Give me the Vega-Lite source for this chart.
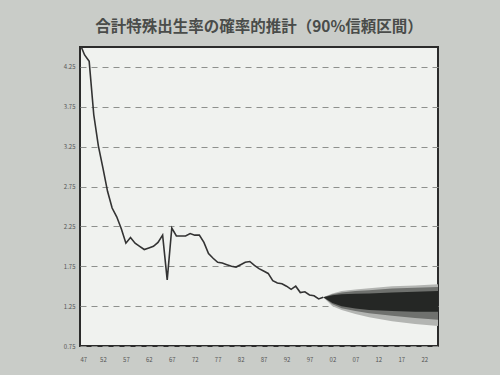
{
  "$schema": "https://vega.github.io/schema/vega-lite/v6.json",
  "autosize": "none",
  "width": 358,
  "height": 299,
  "padding": {"left": 80, "top": 47, "right": 62, "bottom": 29},
  "background": "#c9ccc8",
  "title": {
    "text": "合計特殊出生率の確率的推計（90%信頼区間）",
    "font": "Noto Sans CJK JP",
    "fontSize": 15.5,
    "fontWeight": "bold",
    "color": "#4a4c4a",
    "anchor": "middle",
    "offset": 12
  },
  "config": {
    "view": {"fill": "#f0f2ef", "stroke": "#2b2b2b", "strokeWidth": 2},
    "axis": {"labelFont": "Noto Sans CJK JP", "labelFontSize": 6, "labelColor": "#555555", "domain": false}
  },
  "datasets": {
    "actual": [
      {"year": 1947, "tfr": 4.54}, {"year": 1948, "tfr": 4.40}, {"year": 1949, "tfr": 4.32},
      {"year": 1950, "tfr": 3.65}, {"year": 1951, "tfr": 3.26}, {"year": 1952, "tfr": 2.98},
      {"year": 1953, "tfr": 2.69}, {"year": 1954, "tfr": 2.48}, {"year": 1955, "tfr": 2.37},
      {"year": 1956, "tfr": 2.22}, {"year": 1957, "tfr": 2.04}, {"year": 1958, "tfr": 2.11},
      {"year": 1959, "tfr": 2.04}, {"year": 1960, "tfr": 2.00}, {"year": 1961, "tfr": 1.96},
      {"year": 1962, "tfr": 1.98}, {"year": 1963, "tfr": 2.00}, {"year": 1964, "tfr": 2.05},
      {"year": 1965, "tfr": 2.14}, {"year": 1966, "tfr": 1.58}, {"year": 1967, "tfr": 2.23},
      {"year": 1968, "tfr": 2.13}, {"year": 1969, "tfr": 2.13}, {"year": 1970, "tfr": 2.13},
      {"year": 1971, "tfr": 2.16}, {"year": 1972, "tfr": 2.14}, {"year": 1973, "tfr": 2.14},
      {"year": 1974, "tfr": 2.05}, {"year": 1975, "tfr": 1.91}, {"year": 1976, "tfr": 1.85},
      {"year": 1977, "tfr": 1.80}, {"year": 1978, "tfr": 1.79}, {"year": 1979, "tfr": 1.77},
      {"year": 1980, "tfr": 1.75}, {"year": 1981, "tfr": 1.74}, {"year": 1982, "tfr": 1.77},
      {"year": 1983, "tfr": 1.80}, {"year": 1984, "tfr": 1.81}, {"year": 1985, "tfr": 1.76},
      {"year": 1986, "tfr": 1.72}, {"year": 1987, "tfr": 1.69}, {"year": 1988, "tfr": 1.66},
      {"year": 1989, "tfr": 1.57}, {"year": 1990, "tfr": 1.54}, {"year": 1991, "tfr": 1.53},
      {"year": 1992, "tfr": 1.50}, {"year": 1993, "tfr": 1.46}, {"year": 1994, "tfr": 1.50},
      {"year": 1995, "tfr": 1.42}, {"year": 1996, "tfr": 1.43}, {"year": 1997, "tfr": 1.39},
      {"year": 1998, "tfr": 1.38}, {"year": 1999, "tfr": 1.34}, {"year": 2000, "tfr": 1.36}
    ],
    "band": [
      {"year": 2000, "lo90": 1.36, "hi90": 1.36, "loMid": 1.36, "hiMid": 1.36, "loCore": 1.36, "hiCore": 1.36},
      {"year": 2002, "lo90": 1.25, "hi90": 1.41, "loMid": 1.275, "hiMid": 1.40, "loCore": 1.29, "hiCore": 1.385},
      {"year": 2004, "lo90": 1.20, "hi90": 1.44, "loMid": 1.225, "hiMid": 1.42, "loCore": 1.25, "hiCore": 1.40},
      {"year": 2007, "lo90": 1.15, "hi90": 1.46, "loMid": 1.19, "hiMid": 1.44, "loCore": 1.22, "hiCore": 1.405},
      {"year": 2010, "lo90": 1.11, "hi90": 1.475, "loMid": 1.16, "hiMid": 1.45, "loCore": 1.20, "hiCore": 1.41},
      {"year": 2015, "lo90": 1.06, "hi90": 1.50, "loMid": 1.13, "hiMid": 1.47, "loCore": 1.19, "hiCore": 1.42},
      {"year": 2020, "lo90": 1.025, "hi90": 1.51, "loMid": 1.10, "hiMid": 1.48, "loCore": 1.18, "hiCore": 1.43},
      {"year": 2025, "lo90": 1.00, "hi90": 1.525, "loMid": 1.08, "hiMid": 1.49, "loCore": 1.18, "hiCore": 1.44}
    ]
  },
  "encoding": {
    "x": {
      "field": "year", "type": "quantitative",
      "scale": {"domain": [1947, 2025], "nice": false, "zero": false},
      "axis": {
        "title": null, "grid": false,
        "values": [1947, 1952, 1957, 1962, 1967, 1972, 1977, 1982, 1987, 1992, 1997, 2002, 2007, 2012, 2017, 2022],
        "labelExpr": "substring(toString(datum.value), 2)",
        "tickSize": 0, "labelPadding": 10
      }
    }
  },
  "layer": [
    {
      "data": {"name": "band"},
      "mark": {"type": "area", "color": "#b3b5b2", "clip": true},
      "encoding": {
        "y": {"field": "hi90", "type": "quantitative",
          "scale": {"domain": [0.75, 4.5], "nice": false, "zero": false},
          "axis": {
            "title": null,
            "values": [0.75, 1.25, 1.75, 2.25, 2.75, 3.25, 3.75, 4.25],
            "format": ".2f",
            "grid": true, "gridDash": [6, 5], "gridColor": "#8e908d", "gridWidth": 1,
            "tickSize": 0, "labelPadding": 5
          }
        },
        "y2": {"field": "lo90"}
      }
    },
    {
      "data": {"name": "band"},
      "mark": {"type": "area", "color": "#6f716e", "clip": true},
      "encoding": {
        "y": {"field": "hiMid", "type": "quantitative"},
        "y2": {"field": "loMid"}
      }
    },
    {
      "data": {"name": "band"},
      "mark": {"type": "area", "color": "#252725", "clip": true},
      "encoding": {
        "y": {"field": "hiCore", "type": "quantitative"},
        "y2": {"field": "loCore"}
      }
    },
    {
      "data": {"name": "actual"},
      "mark": {"type": "line", "color": "#333333", "strokeWidth": 1.6, "clip": true},
      "encoding": {
        "y": {"field": "tfr", "type": "quantitative"}
      }
    }
  ]
}
